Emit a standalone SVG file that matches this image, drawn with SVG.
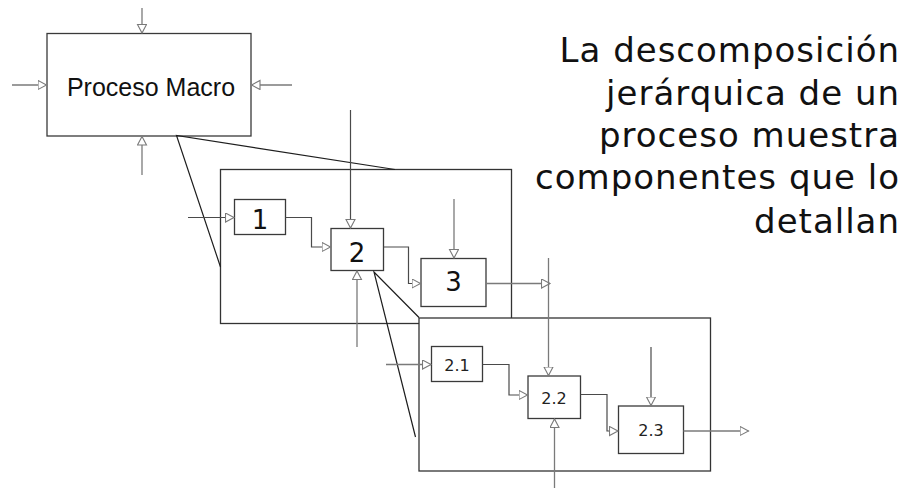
<svg xmlns="http://www.w3.org/2000/svg" width="909" height="489" viewBox="0 0 909 489">
  <style>
    .box { fill: #ffffff; stroke: #3a3a3a; stroke-width: 1.3; }
    .frame { fill: #ffffff; stroke: #333333; stroke-width: 1.3; }
    .arrow { fill: none; stroke: #7a7a7a; stroke-width: 1.3; marker-end: url(#openHead); }
    .flow { fill: none; stroke: #4a4a4a; stroke-width: 1.2; marker-end: url(#openHead); }
    .explode { fill: none; stroke: #1e1e1e; stroke-width: 1.2; }
    .macro { font-family: "Liberation Sans", Arial, sans-serif; font-size: 25px; fill: #111111; }
    .num { font-family: "DejaVu Sans", Verdana, sans-serif; font-size: 26px; fill: #111111; }
    .sub { font-family: "DejaVu Sans", Verdana, sans-serif; font-size: 16px; fill: #222222; }
    .caption { font-family: "DejaVu Sans", Verdana, sans-serif; font-size: 34px; fill: #111111; letter-spacing: 1px; }
  </style>
  <defs>
    <marker id="openHead" markerUnits="userSpaceOnUse" markerWidth="11" markerHeight="11" refX="9" refY="5" orient="auto">
      <path d="M0.5,0.5 L9,5 L0.5,9.5 Z" fill="#ffffff" stroke="#7a7a7a" stroke-width="1.1"/>
    </marker>
  </defs>

  <rect width="909" height="489" fill="#ffffff"/>

  <!-- top level process -->
  <g id="macro">
    <rect class="box" x="47" y="33.5" width="204" height="102.5"/>
    <text class="macro" x="151" y="95.5" text-anchor="middle">Proceso Macro</text>
  </g>

  <!-- first level decomposition frame -->
  <g id="level1">
    <rect class="frame" x="220.5" y="169.5" width="291" height="154"/>
  </g>

  <g id="p1">
    <rect class="box" x="234.5" y="199.5" width="51" height="35"/>
    <text class="num" x="260" y="228.5" text-anchor="middle">1</text>
  </g>
  <g id="p2">
    <rect class="box" x="331" y="228.5" width="52.5" height="42"/>
    <text class="num" x="357" y="261.5" text-anchor="middle">2</text>
  </g>
  <g id="p3">
    <rect class="box" x="421" y="258.5" width="65" height="48"/>
    <text class="num" x="453.5" y="290.5" text-anchor="middle">3</text>
  </g>

  <!-- second level decomposition frame (of process 2) -->
  <g id="level2">
    <rect class="frame" x="419" y="318" width="291.5" height="153"/>
  </g>

  <g id="p2_1">
    <rect class="box" x="431.5" y="346.5" width="51" height="35"/>
    <text class="sub" x="457" y="371" text-anchor="middle">2.1</text>
  </g>
  <g id="p2_2">
    <rect class="box" x="528" y="376" width="52.5" height="42.5"/>
    <text class="sub" x="554" y="404" text-anchor="middle">2.2</text>
  </g>
  <g id="p2_3">
    <rect class="box" x="618.5" y="406" width="65" height="47.5"/>
    <text class="sub" x="651" y="435.5" text-anchor="middle">2.3</text>
  </g>

  <g id="connectors">
    <!-- macro process inputs, outputs, controls -->
    <path class="arrow" d="M142,8 V33"/>
    <path class="arrow" d="M12,85 H46.5"/>
    <path class="arrow" d="M292,85 H251.5"/>
    <path class="arrow" d="M142,175 V136.5"/>

    <!-- explosion of the macro process -->
    <path class="explode" d="M395,169.5 L176.5,135.5 L220.5,267"/>

    <!-- level 1 flows -->
    <path class="flow" d="M188,217.5 H234"/>
    <path class="flow" d="M285.5,217.5 H311.5 V247 H330.5"/>
    <path class="flow" d="M350.5,110 V228"/>
    <path class="arrow" d="M357,347 V271"/>
    <path class="flow" d="M383.5,247 H408.5 V283.5 H420.5"/>
    <path class="arrow" d="M454,199 V258"/>
    <path class="arrow" d="M486,283.5 H550"/>

    <!-- explosion of process 2 -->
    <path class="explode" d="M419,317.5 L374,272 L415.5,437"/>

    <!-- level 2 flows -->
    <path class="arrow" d="M386,364.5 H431"/>
    <path class="flow" d="M482.5,364.5 H509 V395 H527.5"/>
    <path class="arrow" d="M548.5,258 V375.5"/>
    <path class="arrow" d="M554.5,488 V419"/>
    <path class="flow" d="M580.5,394.5 H607 V431 H618"/>
    <path class="flow" d="M651,347 V405.5"/>
    <path class="arrow" d="M683.5,431 H748.5"/>
  </g>

  <!-- caption -->
  <g id="caption">
    <text class="caption" text-anchor="end" x="900" y="62">La descomposición</text>
    <text class="caption" text-anchor="end" x="900" y="104.5">jerárquica de un</text>
    <text class="caption" text-anchor="end" x="900" y="146.5">proceso muestra</text>
    <text class="caption" text-anchor="end" x="900" y="188.5">componentes que lo</text>
    <text class="caption" text-anchor="end" x="900" y="233">detallan</text>
  </g>
</svg>
